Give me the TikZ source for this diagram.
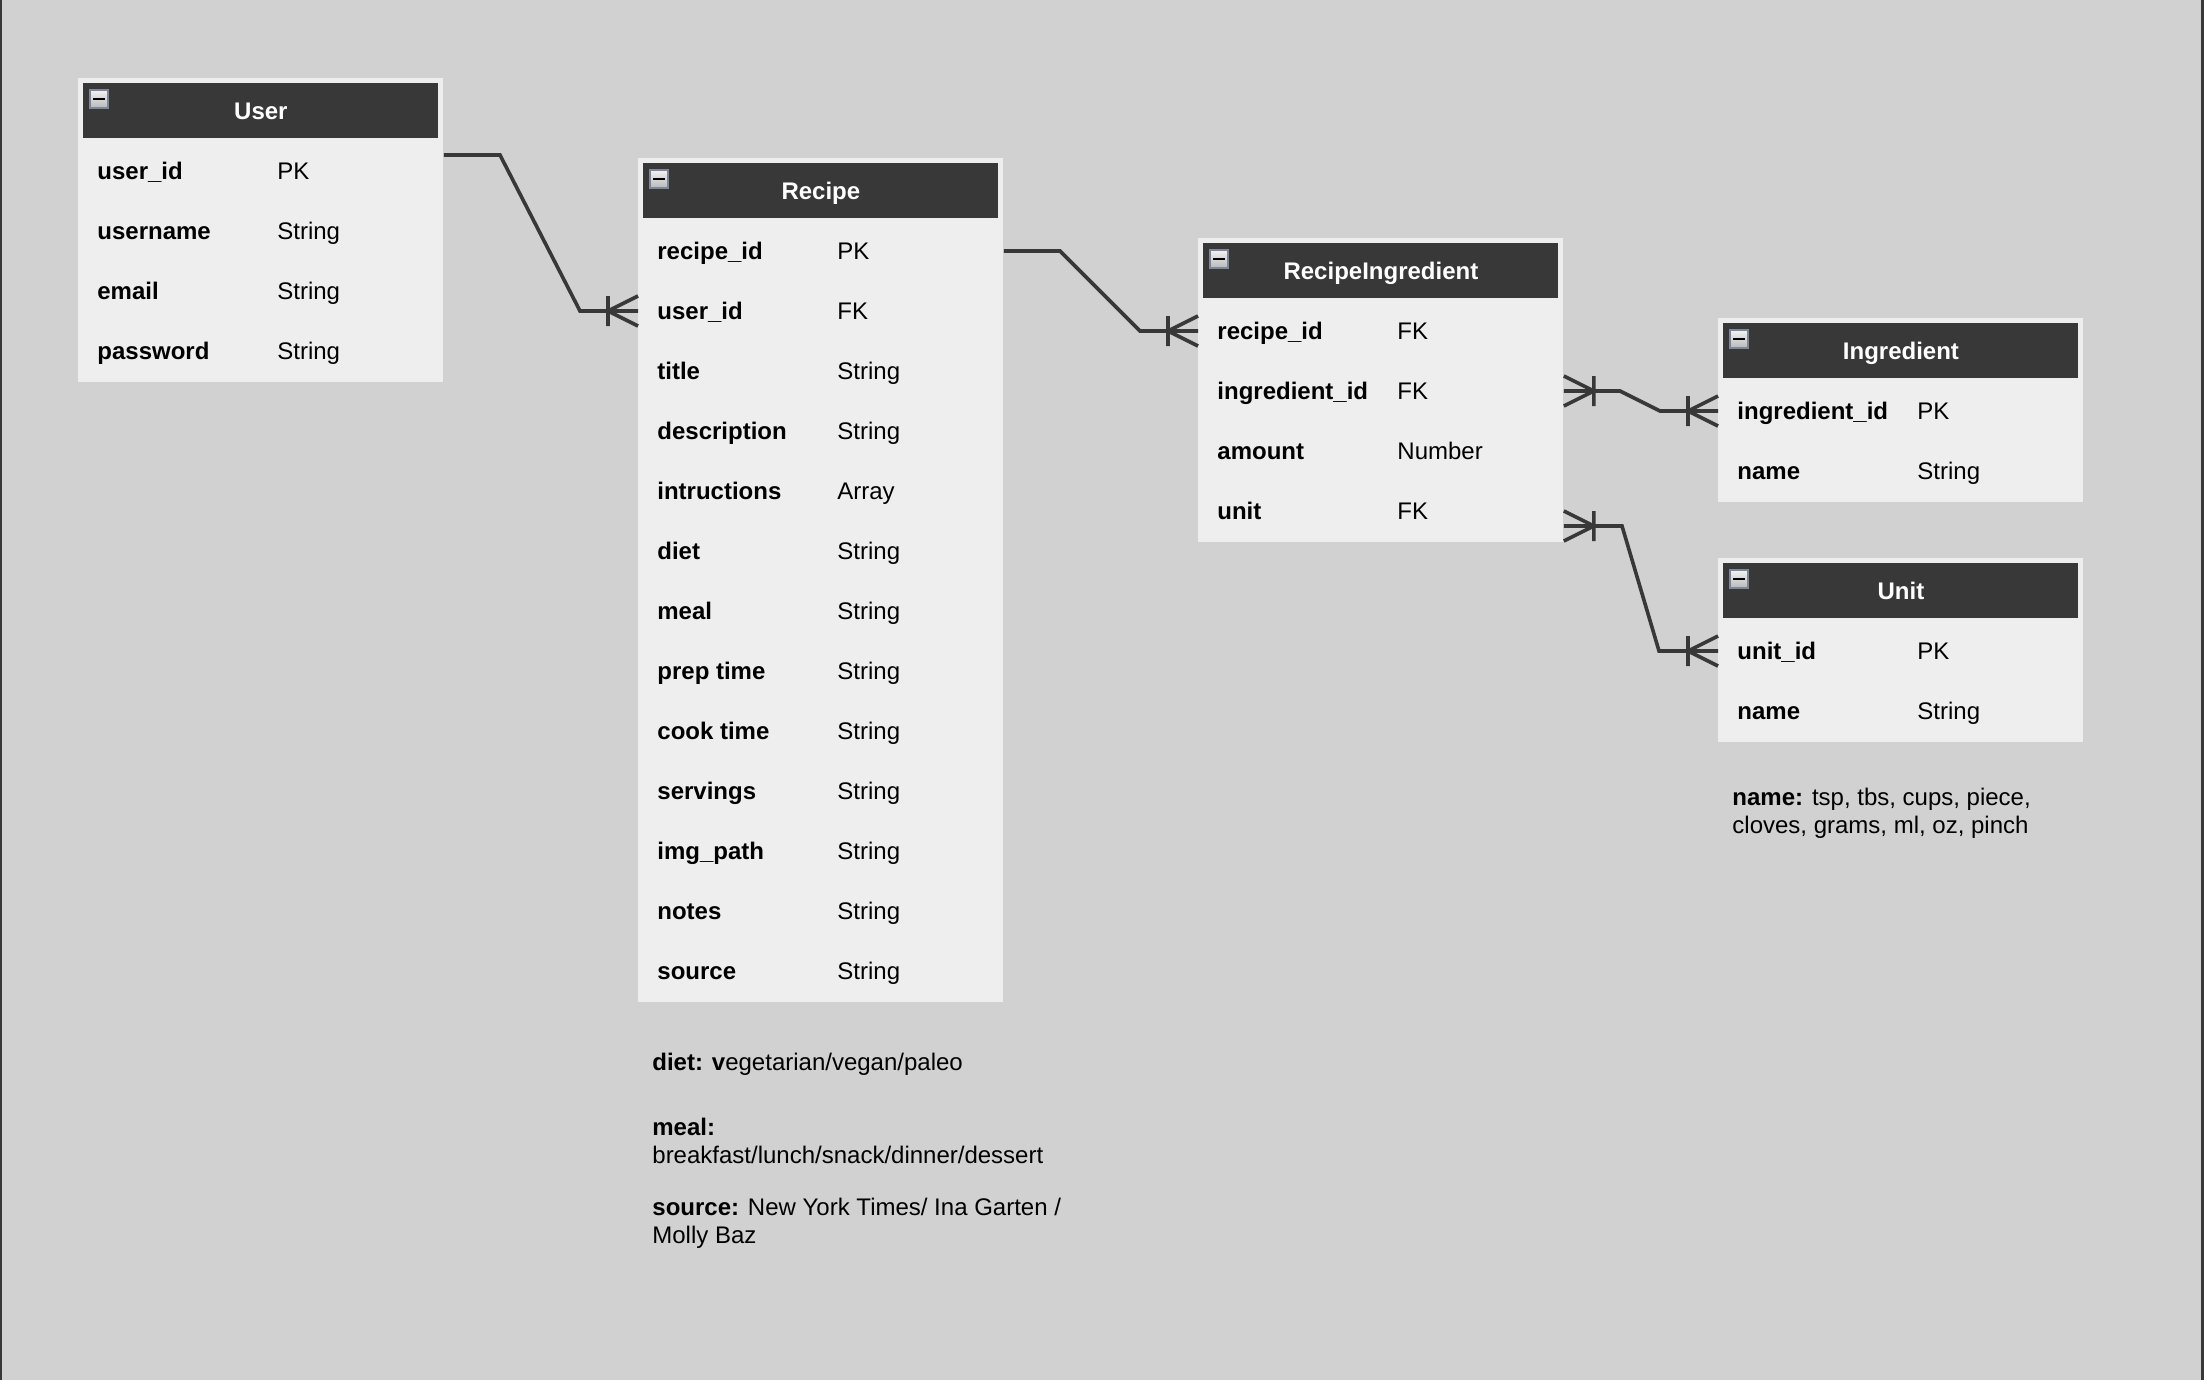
\documentclass[tikz,border=0pt]{standalone}
\usepackage{fontspec}
\setmainfont{Liberation Sans}
\usepackage{xcolor}
\usepackage{tikz}
\usetikzlibrary{positioning}

\definecolor{canvas}{HTML}{D1D1D1}
\definecolor{tablebg}{HTML}{EEEEEE}
\definecolor{headbg}{HTML}{383838}
\definecolor{linkcol}{HTML}{383838}
\definecolor{iconrim}{HTML}{7D8799}

\begin{document}
\begin{tikzpicture}[x=0.5pt, y=-0.5pt, font=\fontsize{12}{14}\selectfont,
    crow/.pic={\draw[linkcol, line width=1.8pt] (-30,-15) -- (-30,15) (0,-15) -- (-30,0) -- (0,15);}]
  \tikzstyle{table}=[fill=tablebg, anchor=north west, minimum width=182.5pt, inner sep=0pt]
  \tikzstyle{head}=[fill=headbg, text=white, anchor=north, font=\fontsize{12}{14}\selectfont\bfseries,
    minimum width=177.5pt, minimum height=27.5pt, inner sep=0pt, text height=8.6pt, text depth=0pt]
  \tikzstyle{icon}=[draw=iconrim, line width=0.6pt, top color=white!90!gray, bottom color=gray!55,
    minimum size=9pt, inner sep=0pt,
    path picture={\draw[black, line width=1pt] ([xshift=1.5pt]path picture bounding box.west) -- ([xshift=-1.5pt]path picture bounding box.east);}]
  \tikzstyle{field}=[anchor=west, inner sep=0pt, text height=8.6pt, text depth=0pt, font=\fontsize{12}{14}\selectfont\bfseries]
  \tikzstyle{ftype}=[anchor=west, inner sep=0pt, text height=8.6pt, text depth=0pt]
  \tikzstyle{note}=[anchor=base west, inner sep=0pt, align=left]
  \tikzstyle{rel}=[draw=linkcol, line width=1.8pt]

  \useasboundingbox (0,0) rectangle (2204,1380);
  \fill[canvas] (0,0) rectangle (2204,1380);
  \fill[headbg] (0,0) rectangle (2,1380);
  \fill[headbg] (2201,0) rectangle (2204,1380);

  % User
  \node[table, minimum height=152pt] (user) at (78,78) {};
  \node[head] (userhead) at ([yshift=-2.5pt]user.north) {User};
  \node[icon] (usermin) at ([xshift=10.5pt,yshift=-10.5pt]user.north west) {};
  \node[field] (usid) at (97,171) {user\_id};      \node[ftype] (usidt) at (277,171) {PK};
  \node[field] (usname) at (97,231) {username};    \node[ftype] (usnamet) at (277,231) {String};
  \node[field] (usemail) at (97,291) {email};      \node[ftype] (usemailt) at (277,291) {String};
  \node[field] (uspass) at (97,351) {password};    \node[ftype] (uspasst) at (277,351) {String};

  % Recipe
  \node[table, minimum height=422pt] (recipe) at (638,158) {};
  \node[head] (recipehead) at ([yshift=-2.5pt]recipe.north) {Recipe};
  \node[icon] (recipemin) at ([xshift=10.5pt,yshift=-10.5pt]recipe.north west) {};
  \node[field] (rcid) at (657,251) {recipe\_id};         \node[ftype] (rcidt) at (837,251) {PK};
  \node[field] (rcuser) at (657,311) {user\_id};         \node[ftype] (rcusert) at (837,311) {FK};
  \node[field] (rctitle) at (657,371) {title};           \node[ftype] (rctitlet) at (837,371) {String};
  \node[field] (rcdesc) at (657,431) {description};      \node[ftype] (rcdesct) at (837,431) {String};
  \node[field] (rcinstr) at (657,491) {intructions};     \node[ftype] (rcinstrt) at (837,491) {Array};
  \node[field] (rcdiet) at (657,551) {diet};             \node[ftype] (rcdiett) at (837,551) {String};
  \node[field] (rcmeal) at (657,611) {meal};             \node[ftype] (rcmealt) at (837,611) {String};
  \node[field] (rcprep) at (657,671) {prep time};        \node[ftype] (rcprept) at (837,671) {String};
  \node[field] (rccook) at (657,731) {cook time};        \node[ftype] (rccookt) at (837,731) {String};
  \node[field] (rcserv) at (657,791) {servings};         \node[ftype] (rcservt) at (837,791) {String};
  \node[field] (rcimg) at (657,851) {img\_path};         \node[ftype] (rcimgt) at (837,851) {String};
  \node[field] (rcnotes) at (657,911) {notes};           \node[ftype] (rcnotest) at (837,911) {String};
  \node[field] (rcsource) at (657,971) {source};         \node[ftype] (rcsourcet) at (837,971) {String};

  % RecipeIngredient
  \node[table, minimum height=152pt] (recing) at (1198,238) {};
  \node[head] (recinghead) at ([yshift=-2.5pt]recing.north) {RecipeIngredient};
  \node[icon] (recingmin) at ([xshift=10.5pt,yshift=-10.5pt]recing.north west) {};
  \node[field] (riid) at (1217,331) {recipe\_id};        \node[ftype] (riidt) at (1397,331) {FK};
  \node[field] (riing) at (1217,391) {ingredient\_id};   \node[ftype] (riingt) at (1397,391) {FK};
  \node[field] (riamount) at (1217,451) {amount};        \node[ftype] (riamountt) at (1397,451) {Number};
  \node[field] (riunit) at (1217,511) {unit};            \node[ftype] (riunitt) at (1397,511) {FK};

  % Ingredient
  \node[table, minimum height=92pt] (ingr) at (1718,318) {};
  \node[head] (ingrhead) at ([yshift=-2.5pt]ingr.north) {Ingredient};
  \node[icon] (ingrmin) at ([xshift=10.5pt,yshift=-10.5pt]ingr.north west) {};
  \node[field] (ingid) at (1737,411) {ingredient\_id};   \node[ftype] (ingidt) at (1917,411) {PK};
  \node[field] (ingname) at (1737,471) {name};           \node[ftype] (ingnamet) at (1917,471) {String};

  % Unit
  \node[table, minimum height=92pt] (unit) at (1718,558) {};
  \node[head] (unithead) at ([yshift=-2.5pt]unit.north) {Unit};
  \node[icon] (unitmin) at ([xshift=10.5pt,yshift=-10.5pt]unit.north west) {};
  \node[field] (unid) at (1737,651) {unit\_id};          \node[ftype] (unidt) at (1917,651) {PK};
  \node[field] (unname) at (1737,711) {name};            \node[ftype] (unnamet) at (1917,711) {String};

  % notes (base = last line)
  \node[note] (dietnote) at (652,1070) {\textbf{diet: v}egetarian/vegan/paleo};
  \node[note] (mealnote) at (652,1163) {\textbf{meal:}\\breakfast/lunch/snack/dinner/dessert};
  \node[note] (sourcenote) at (652,1243) {\textbf{source:} New York Times/ Ina Garten /\\Molly Baz};
  \node[note] (unitnote) at (1732,833) {\textbf{name:} tsp, tbs, cups, piece,\\cloves, grams, ml, oz, pinch};

  % relations
  \draw[rel] (user.east |- 0,155) -- (500,155) -- (580,311) -- (recipe.west |- rcuser);
  \pic at (recipe.west |- rcuser) {crow};
  \draw[rel] (recipe.east |- rcid) -- (1060,251) -- (1140,331) -- (recing.west |- riid);
  \pic at (recing.west |- riid) {crow};
  \draw[rel] (recing.east |- riing) -- (1620,391) -- (1660,411) -- (ingr.west |- ingid);
  \pic[xscale=-1] at (recing.east |- riing) {crow};
  \pic at (ingr.west |- ingid) {crow};
  \draw[rel] (recing.east |- 0,526) -- (1622,526) -- (1659,651) -- (unit.west |- unid);
  \pic[xscale=-1] at (recing.east |- 0,526) {crow};
  \pic at (unit.west |- unid) {crow};
\end{tikzpicture}
\end{document}
